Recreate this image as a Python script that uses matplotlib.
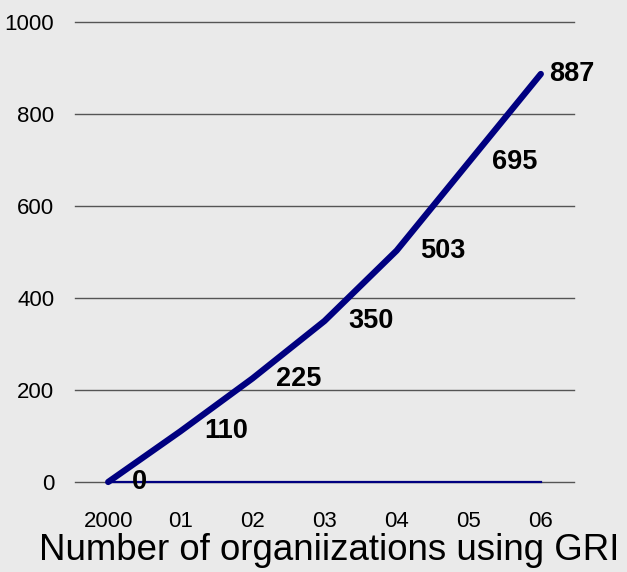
import matplotlib
matplotlib.use("Agg")
from matplotlib import pyplot as plt

years = ["2000", "01", "02", "03", "04", "05", "06"]
orgs = [0, 110, 225, 350, 503, 695, 887]
baseline = [0, 0, 0, 0, 0, 0, 0]
yticks = [0, 200, 400, 600, 800, 1000]
title = "Number of organiizations using GRI"

bg = "#eaeaea"
navy = "#000080"

plt.rcParams['font.family'] = ['Liberation Sans', 'DejaVu Sans']

fig = plt.figure(figsize=(6.27, 5.72), dpi=100, facecolor=bg)
ax = fig.add_axes([75/627, 1-482/572, 499/627, 460/572])
ax.set_facecolor(bg)

x = list(range(len(years)))

# gridlines
for t in yticks:
    ax.axhline(t, color="#555555", lw=1.0, zorder=1, clip_on=False)

ax.plot(x, baseline, color=navy, lw=1.6, zorder=2, clip_on=False)
ax.plot(x, orgs, color=navy, lw=4.5, solid_capstyle='round', zorder=3, clip_on=False)

# data labels
for i, v in enumerate(orgs):
    off = 6 if i == len(orgs) - 1 else 17
    ax.annotate(str(v), (i, v), xytext=(off, 0), textcoords='offset points',
                ha='left', va='center', fontsize=19.5, fontweight='bold', zorder=4)

ax.set_xlim(-0.46, 6.46)
ax.set_ylim(0, 1000)
ax.set_xticks(x)
ax.set_xticklabels(years, fontsize=16)
ax.set_yticks(yticks)
ax.set_yticklabels([str(t) for t in yticks], fontsize=16)
ax.tick_params(axis='x', length=0, pad=21)
ax.tick_params(axis='y', length=0, pad=15)
for s in ax.spines.values():
    s.set_visible(False)

fig.text(329/627, 1-551/572, title, ha='center', va='center', fontsize=26.4)

fig.savefig("out.png", dpi=100, facecolor=bg)
